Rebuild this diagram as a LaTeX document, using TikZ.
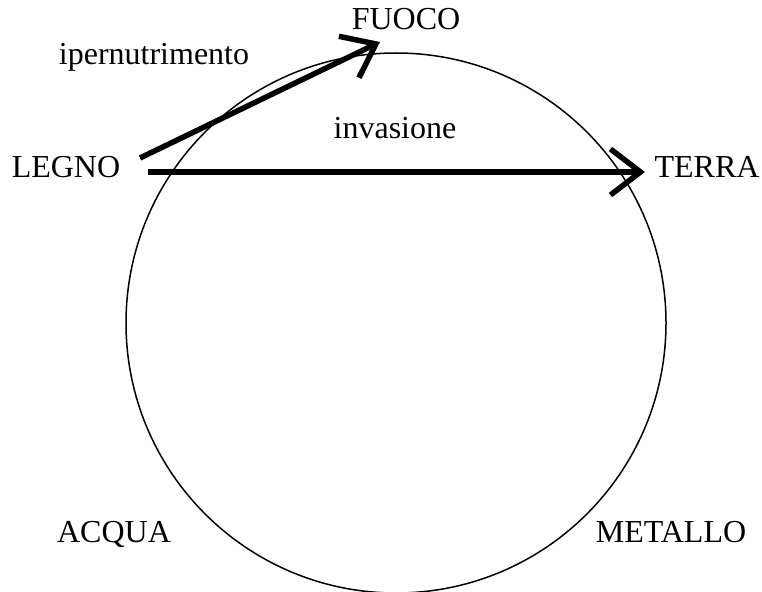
\documentclass[tikz,border=0pt]{standalone}
\usepackage{fontspec}
\setmainfont{Liberation Serif}
\usetikzlibrary{arrows.meta}
\begin{document}
\begin{tikzpicture}[x=1pt,y=-1pt,
  lbl/.style={anchor=base,inner sep=0pt,font=\fontsize{32}{37}\selectfont},
  conn/.style={line width=5.5pt,-{Straight Barb[sharp,length=30pt,width=46pt,line width=5.5pt]}}]
\useasboundingbox (0,0) rectangle (762,591);
\clip (0,0) rectangle (762,591);
\draw[line width=1.5pt] (396,323) circle[radius=270pt];
\node[lbl] (fuoco) at (406,30) {FUOCO};
\node[lbl] (iper) at (154,65) {ipernutrimento};
\node[lbl] (inv) at (395,139) {invasione};
\node[lbl] (legno) at (66,177) {LEGNO};
\node[lbl] (terra) at (707,177) {TERRA};
\node[lbl] (acqua) at (114,542) {ACQUA};
\node[lbl] (metallo) at (671,542) {METALLO};
\coordinate (a1s) at (140,158);
\coordinate (a1e) at (380,42);
\coordinate (a2s) at (148,172);
\coordinate (a2e) at (645,172);
\draw[conn] (a1s) -- (a1e);
\draw[conn] (a2s) -- (a2e);
\end{tikzpicture}
\end{document}
